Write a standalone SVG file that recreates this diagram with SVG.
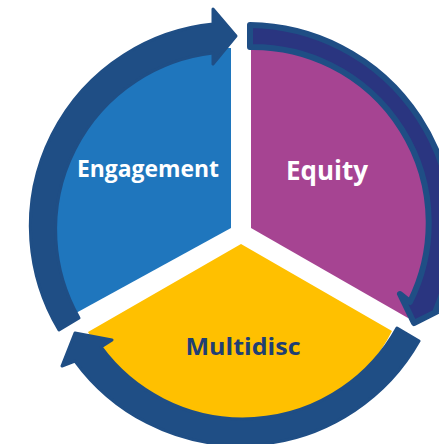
<svg xmlns="http://www.w3.org/2000/svg" width="439" height="444" viewBox="0 0 439 444">
<style>
.t{font-family:"Open Sans","Noto Sans",sans-serif;font-weight:700}
.w{fill:#fff}
.arrow{fill:#1f4e85;stroke:#1f4e85;stroke-width:3;stroke-linejoin:round}
</style>
<rect width="439" height="444" fill="#fff"/>
<g id="engagement">
<path d="M231 48V228L76 313A176 176 0 0 1 231 48Z" fill="#1f76bd"/>
<text class="t w" x="148" y="177" font-size="23" text-anchor="middle" textLength="142" lengthAdjust="spacingAndGlyphs">Engagement</text>
</g>
<g id="equity">
<path d="M251 48V228L408 318A176 176 0 0 0 251 48Z" fill="#a64492"/>
<text class="t w" x="327" y="180" font-size="26" text-anchor="middle" textLength="82" lengthAdjust="spacingAndGlyphs">Equity</text>
</g>
<g id="multidisc">
<path d="M241 244L392 331A170 170 0 0 1 88 332Z" fill="#ffc000"/>
<text class="t" x="243" y="355" font-size="24" text-anchor="middle" fill="#1f3f73" textLength="115" lengthAdjust="spacingAndGlyphs">Multidisc</text>
</g>
<g id="connectors">
<path class="arrow" d="M59 330A203 203 0 0 1 213 24V9L236 36L213 64V53A178 178 0 0 0 79 318Z"/>
<path class="arrow" style="fill:#2a3580;stroke-width:6" d="M250 25A205 205 0 0 1 436 310L452 304L414 323L400 294L410 302A176 176 0 0 0 250 47Z"/>
<path class="arrow" d="M419 341A205 205 0 0 1 75 361L62 366L75 333L112 340L101 347A176 176 0 0 0 397 328Z"/>
</g>
</svg>
